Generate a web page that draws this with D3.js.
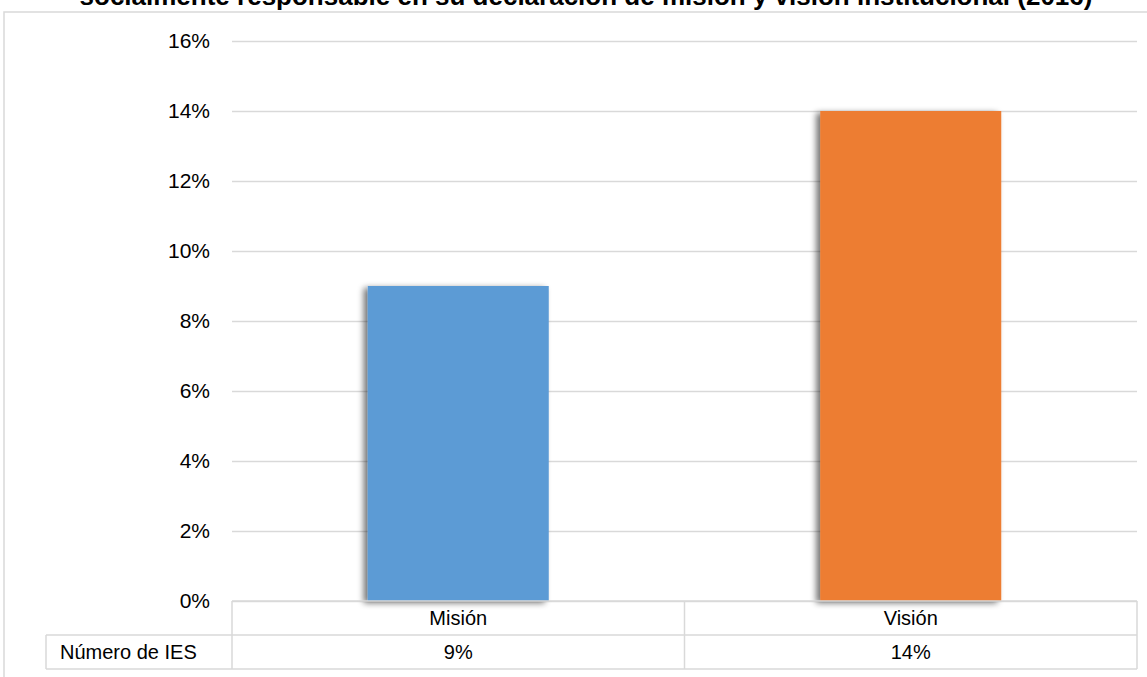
<!DOCTYPE html>
<html><head><meta charset="utf-8">
<script src="https://cdn.jsdelivr.net/npm/d3@7"></script>
<style>body{margin:0;background:#fff;overflow:hidden}svg{display:block;font-family:Arial,"Liberation Sans",sans-serif}</style>
</head><body>
<script>
const categories = ["Misión", "Visión"];
const values = [9, 14];
const colors = ["#5B9BD5", "#ED7D31"];
const yTicks = [0, 2, 4, 6, 8, 10, 12, 14, 16];
const seriesName = "Número de IES";
const title = "socialmente responsable en su declaración de misión y visión institucional (2016)";

(function () {
const W = 1147, H = 677;
const svg = d3.select("body").append("svg").attr("width", W).attr("height", H);
const defs = svg.append("defs");
const f = defs.append("filter").attr("id", "sh").attr("x", "-20%").attr("y", "-10%").attr("width", "140%").attr("height", "120%");
f.append("feGaussianBlur").attr("in", "SourceAlpha").attr("stdDeviation", 3).attr("result", "b");
f.append("feOffset").attr("in", "b").attr("dx", -4).attr("dy", 2).attr("result", "o");
f.append("feComponentTransfer").attr("in", "o").attr("result", "o2").append("feFuncA").attr("type", "linear").attr("slope", 0.55);
const m = f.append("feMerge");
m.append("feMergeNode").attr("in", "o2");
m.append("feMergeNode").attr("in", "SourceGraphic");

svg.append("rect").attr("x", 4).attr("y", 12).attr("width", W + 10).attr("height", H + 10)
  .attr("fill", "none").attr("stroke", "#d9d9d9").attr("stroke-width", 1.5);

svg.append("text").attr("x", 586).attr("y", 5).attr("text-anchor", "middle")
  .attr("font-size", 26).attr("font-weight", "bold").attr("fill", "#000").text(title);

const pL = 232, pR = 1137, pT = 41, pB = 601;
const y = d3.scaleLinear().domain([0, 16]).range([pB, pT]);
const x = d3.scaleBand().domain(categories).range([pL, pR]).paddingInner(0.6).paddingOuter(0.3);
const xc = d3.scaleBand().domain(categories).range([pL, pR]);

const yAxis = d3.axisLeft(y).tickValues(yTicks).tickFormat(d => d + "%").tickSize(-(pR - pL)).tickPadding(22);
const ga = svg.append("g").attr("transform", `translate(${pL},0)`).call(yAxis);
ga.select(".domain").remove();
ga.selectAll(".tick line").attr("stroke", "#d9d9d9").attr("stroke-width", 1.5);
ga.selectAll(".tick text").attr("font-size", 21).attr("fill", "#000").attr("font-family", "Arial,'Liberation Sans',sans-serif");

svg.append("g").selectAll("rect").data(categories).join("rect")
  .attr("x", d => x(d)).attr("width", x.bandwidth())
  .attr("y", (d, i) => y(values[i])).attr("height", (d, i) => pB - y(values[i]))
  .attr("fill", (d, i) => colors[i]).attr("filter", "url(#sh)");

const rowH = 34, labelLeft = 46;
const tg = svg.append("g").attr("stroke", "#d9d9d9").attr("stroke-width", 1.5).attr("fill", "none");
tg.append("line").attr("x1", pL).attr("x2", pR).attr("y1", pB).attr("y2", pB);
tg.append("line").attr("x1", labelLeft).attr("x2", pR).attr("y1", pB + rowH).attr("y2", pB + rowH);
tg.append("line").attr("x1", labelLeft).attr("x2", pR).attr("y1", pB + 2 * rowH).attr("y2", pB + 2 * rowH);
tg.append("line").attr("x1", labelLeft).attr("x2", labelLeft).attr("y1", pB + rowH).attr("y2", pB + 2 * rowH);
tg.append("line").attr("x1", pR).attr("x2", pR).attr("y1", pB).attr("y2", pB + 2 * rowH);
categories.forEach(c => {
  tg.append("line").attr("x1", xc(c)).attr("x2", xc(c)).attr("y1", pB).attr("y2", pB + 2 * rowH);
});
const txt = svg.append("g").attr("font-size", 20).attr("fill", "#000");
categories.forEach((c, i) => {
  const cx = xc(c) + xc.bandwidth() / 2;
  txt.append("text").attr("x", cx).attr("y", pB + rowH / 2 + 7).attr("text-anchor", "middle").text(c);
  txt.append("text").attr("x", cx).attr("y", pB + rowH * 1.5 + 7).attr("text-anchor", "middle").text(values[i] + "%");
});
txt.append("text").attr("x", labelLeft + 14).attr("y", pB + rowH * 1.5 + 7).text(seriesName);
})();
</script>
</body></html>
